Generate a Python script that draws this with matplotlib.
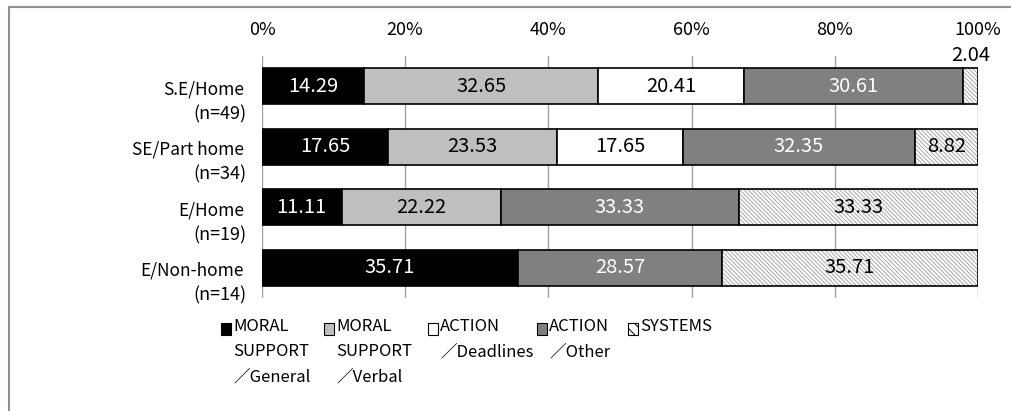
import matplotlib.pyplot as plt
import numpy as np
from matplotlib.patches import Rectangle

plt.rcParams['font.family'] = ['Noto Sans CJK JP', 'DejaVu Sans']

groups = ["S.E/Home", "SE/Part home", "E/Home", "E/Non-home"]
group_n = ["(n=49)", "(n=34)", "(n=19)", "(n=14)"]
series = ["MORAL\nSUPPORT\n／General", "MORAL\nSUPPORT\n／Verbal",
          "ACTION\n／Deadlines", "ACTION\n／Other", "SYSTEMS"]
moral_general = [14.29, 17.65, 11.11, 35.71]
moral_verbal = [32.65, 23.53, 22.22, 0]
action_deadlines = [20.41, 17.65, 0, 0]
action_other = [30.61, 32.35, 33.33, 28.57]
systems = [2.04, 8.82, 33.33, 35.71]
values = [moral_general, moral_verbal, action_deadlines, action_other, systems]

fills = ["black", "#bfbfbf", "white", "#808080", "white"]
text_colors = ["white", "black", "black", "white", "black"]

fig = plt.figure(figsize=(10.12, 4.11), dpi=100)
ax = fig.add_axes([262 / 1012, 1 - 298 / 411, 716 / 1012, 242 / 411])

y = np.arange(len(groups))
h = 0.6
hatch = "\\" * 8
plt.rcParams['hatch.linewidth'] = 0.7
left = np.zeros(len(groups))
for k, vals in enumerate(values):
    vals = np.array(vals)
    if k == 4:
        # hatched fill first, black outline on top
        ax.barh(y, vals, h, left=left, color="white", edgecolor="#a8a8a8",
                hatch=hatch, linewidth=0, zorder=3)
        ax.barh(y, vals, h, left=left, fill=False, edgecolor="black",
                linewidth=1.2, zorder=4)
    else:
        ax.barh(y, vals, h, left=left, color=fills[k], edgecolor="black",
                linewidth=1.2, zorder=3)
    for i, v in enumerate(vals):
        if v <= 0:
            continue
        cx = left[i] + v / 2
        if v < 5:
            ax.text(cx, i - h / 2 - 0.04, f"{v:.2f}", ha="center", va="bottom",
                    fontsize=14.5, color="black", zorder=5)
        else:
            ax.text(cx, i, f"{v:.2f}", ha="center", va="center",
                    fontsize=14.5, color=text_colors[k], zorder=5)
    left += vals

ax.set_xlim(0, 100)
ax.set_ylim(len(groups) - 0.5, -0.5)
ax.set_xticks(np.arange(0, 101, 20))
ax.set_xticklabels([f"{t}%" for t in range(0, 101, 20)])
ax.xaxis.tick_top()
ax.tick_params(axis="x", length=0, pad=12, labelsize=13)
ax.set_yticks([])
for s in ax.spines.values():
    s.set_visible(False)
ax.grid(axis="x", color="#a0a0a0", linewidth=1)
ax.set_axisbelow(True)

# two-line category labels
trans = ax.get_yaxis_transform()
for i, (g, n) in enumerate(zip(groups, group_n)):
    ax.text(-0.025, i + 0.05, g, transform=trans, ha="right", va="center",
            fontsize=12.5)
    ax.text(-0.022, i + 0.46, n, transform=trans, ha="right", va="center",
            fontsize=13)

# legend drawn by hand so the swatch sits on the first text line
leg_x = [221, 324, 428, 537, 628]
for k, lab in enumerate(series):
    x0 = leg_x[k]
    fig.add_artist(Rectangle((x0 / 1012, 1 - 335 / 411), 10 / 1012, 12 / 411,
                             transform=fig.transFigure, facecolor=fills[k],
                             edgecolor="black", linewidth=0.8,
                             hatch="\\\\\\" if k == 4 else None))
    fig.text((x0 + 12) / 1012, 1 - 318 / 411, lab, ha="left", va="top",
             fontsize=12, linespacing=1.65)

# outer frame
fig.add_artist(Rectangle((8.5 / 1012, -0.1), 1.2, 1.1 - 7.5 / 411,
                         transform=fig.transFigure, fill=False,
                         edgecolor="#909090", linewidth=1.5))

fig.savefig("out.png", dpi=100)
